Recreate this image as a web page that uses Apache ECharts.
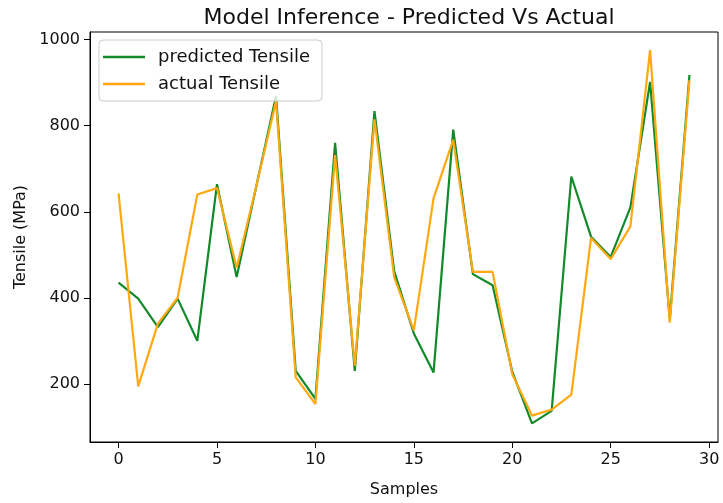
<!DOCTYPE html>
<html>
<head>
<meta charset="utf-8">
<script src="https://cdn.jsdelivr.net/npm/echarts@6/dist/echarts.min.js"></script>
<style>html,body{margin:0;padding:0;background:#fff}#c{width:723px;height:503px}</style>
</head>
<body>
<div id="c"></div>
<script>
const samples = Array.from({length: 30}, (_, i) => i);
const predicted = [435, 398, 332, 398, 300, 664, 448, 660, 869, 230, 165, 760, 230, 834, 462, 317, 226, 791, 455, 429, 228, 108, 137, 682, 542, 495, 610, 902, 350, 918];
const actual = [643, 194, 340, 400, 640, 655, 470, 660, 857, 215, 153, 732, 242, 815, 448, 324, 631, 767, 460, 460, 222, 126, 140, 175, 539, 490, 566, 976, 342, 906];
const xTicks = [0, 5, 10, 15, 20, 25, 30];
const yTicks = [200, 400, 600, 800, 1000];

const font = 'DejaVu Sans';
const chart = echarts.init(document.getElementById('c'), null, {renderer: 'canvas'});
chart.setOption({
  animation: false,
  backgroundColor: '#fff',
  title: {
    text: 'Model Inference - Predicted Vs Actual',
    left: 404, top: 2, textAlign: 'center',
    textStyle: {fontFamily: font, fontSize: 22, fontWeight: 'normal', color: '#111'}
  },
  legend: {
    orient: 'vertical', left: 99, top: 40,
    data: ['predicted Tensile', 'actual Tensile'],
    icon: 'rect', itemWidth: 42, itemHeight: 2.5, itemGap: 9,
    backgroundColor: 'rgba(255,255,255,0.8)', borderColor: '#ccc', borderWidth: 1, borderRadius: 4,
    padding: [8, 12, 8, 4],
    textStyle: {fontFamily: font, fontSize: 18, color: '#111', padding: [0, 0, 0, 8]}
  },
  grid: {left: 90, right: 5, top: 32, bottom: 61, show: true, borderColor: '#000', borderWidth: 1, containLabel: false},
  xAxis: {
    type: 'value', min: -1.45, max: 30.45,
    name: 'Samples', nameLocation: 'middle', nameGap: 40,
    nameTextStyle: {fontFamily: font, fontSize: 16, color: '#111'},
    axisLine: {show: true, onZero: false, lineStyle: {color: '#000'}},
    axisTick: {show: true, length: 6, customValues: xTicks, lineStyle: {color: '#000'}},
    axisLabel: {customValues: xTicks, formatter: v => String(v), fontFamily: font, fontSize: 16, color: '#111', margin: 10},
    splitLine: {show: false}
  },
  yAxis: {
    type: 'value', min: 64.6, max: 1018,
    name: 'Tensile (MPa)', nameLocation: 'middle', nameGap: 58, nameRotate: 90,
    nameTextStyle: {fontFamily: font, fontSize: 16, color: '#111'},
    axisLine: {show: true, onZero: false, lineStyle: {color: '#000'}},
    axisTick: {show: true, length: 6, customValues: yTicks, lineStyle: {color: '#000'}},
    axisLabel: {customValues: yTicks, formatter: v => String(v), fontFamily: font, fontSize: 16, color: '#111', margin: 10},
    splitLine: {show: false}
  },
  series: [
    {name: 'predicted Tensile', type: 'line', data: samples.map((x, i) => [x, predicted[i]]),
     symbol: 'none', lineStyle: {color: '#138a2a', width: 2.2}, itemStyle: {color: '#138a2a'}},
    {name: 'actual Tensile', type: 'line', data: samples.map((x, i) => [x, actual[i]]),
     symbol: 'none', lineStyle: {color: '#ffa812', width: 2.2}, itemStyle: {color: '#ffa812'}}
  ]
});
</script>
</body>
</html>
